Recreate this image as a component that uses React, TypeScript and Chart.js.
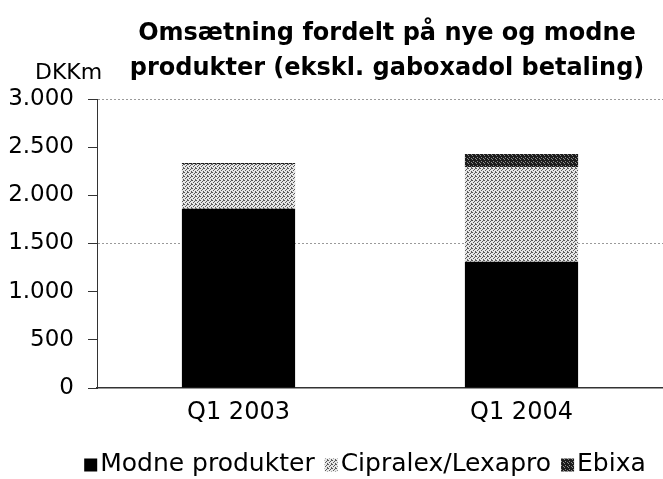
import React, { useEffect, useRef } from "react";
import { Chart, registerables } from "chart.js";

Chart.register(...registerables);

const categories = ["Q1 2003", "Q1 2004"];
const modneValues = [1860, 1310];
const cipralexValues = [465, 985];
const ebixaValues = [10, 135];
const seriesNames = ["Modne produkter", "Cipralex/Lexapro", "Ebixa"];
const titleLines = ["Omsætning fordelt på nye og modne", "produkter (ekskl. gaboxadol betaling)"];
const unitLabel = "DKKm";

const FONT = 'Verdana, "DejaVu Sans", sans-serif';

function makePattern(base: string, dot: string, dots: number[][]) {
  const c = document.createElement("canvas");
  c.width = 4;
  c.height = 4;
  const x = c.getContext("2d")!;
  x.fillStyle = base;
  x.fillRect(0, 0, 4, 4);
  x.fillStyle = dot;
  dots.forEach(([a, b]) => x.fillRect(a, b, 1, 1));
  return x.createPattern(c, "repeat")!;
}

function fmt(v: number) {
  return String(v).replace(/\B(?=(\d{3})+(?!\d))/g, ".");
}

export default function App() {
  const ref = useRef<HTMLCanvasElement>(null);
  useEffect(() => {
    const light = makePattern("#e6e6e6", "#5a5a5a", [[0, 0], [2, 1], [1, 2], [3, 3], [3, 0]]);
    const dark = makePattern("#1c1c1c", "#8a8a8a", [[1, 1], [3, 2], [0, 3]]);
    const fills = ["#000000", light, dark];

    const overlay = {
      id: "overlay",
      afterDraw(chart: any) {
        const ctx = chart.ctx;
        const ca = chart.chartArea;
        ctx.save();
        ctx.fillStyle = "#000";
        ctx.textBaseline = "middle";
        ctx.textAlign = "center";
        ctx.font = `bold 24px ${FONT}`;
        const cx = (ca.left + ca.right) / 2 + 7;
        ctx.fillText(titleLines[0], cx, 34);
        ctx.fillText(titleLines[1], cx, 69);
        ctx.textAlign = "left";
        ctx.font = `22px ${FONT}`;
        ctx.fillText(unitLabel, 35, 73);

        // legend
        ctx.font = `25px ${FONT}`;
        const box = 13, gapBT = 3, gapItem = 10;
        const widths = seriesNames.map((n) => ctx.measureText(n).width);
        let total = 0;
        widths.forEach((w, i) => { total += box + gapBT + w + (i < widths.length - 1 ? gapItem : 0); });
        let x = 365 - total / 2;
        const ly = 464;
        seriesNames.forEach((n, i) => {
          ctx.fillStyle = fills[i] as any;
          ctx.fillRect(x, ly - box / 2 + 1, box, box);
          x += box + gapBT;
          ctx.fillStyle = "#000";
          ctx.fillText(n, x, ly);
          x += widths[i] + gapItem;
        });
        ctx.restore();
      },
    };

    const chart = new Chart(ref.current!, {
      type: "bar",
      data: {
        labels: categories,
        datasets: [
          { label: seriesNames[0], data: modneValues, backgroundColor: fills[0] as any },
          { label: seriesNames[1], data: cipralexValues, backgroundColor: fills[1] as any },
          { label: seriesNames[2], data: ebixaValues, backgroundColor: fills[2] as any },
        ],
      },
      options: {
        animation: false,
        responsive: true,
        maintainAspectRatio: false,
        layout: { padding: { top: 99, bottom: 0, left: 0, right: 0 } },
        datasets: { bar: { barPercentage: 0.4, categoryPercentage: 1 } },
        plugins: { legend: { display: false }, title: { display: false }, tooltip: { enabled: false } },
        scales: {
          x: {
            stacked: true,
            grid: { display: true, color: "transparent", drawTicks: false },
            border: { display: true, color: "#333", width: 1.5 },
            ticks: { color: "#000", font: { family: FONT, size: 24 }, padding: 10 },
            afterFit: (s: any) => { s.height = 91; },
          },
          y: {
            stacked: true,
            min: 0,
            max: 3000,
            ticks: { stepSize: 500, color: "#000", font: { family: FONT, size: 23 }, padding: 14, callback: (v: any) => fmt(Number(v)) },
            grid: {
              color: (c: any) => (c.tick && (c.tick.value === 1500 || c.tick.value === 3000) ? "#9a9a9a" : "transparent"),
              drawTicks: true,
              tickLength: 9,
              tickColor: "#333",
              tickWidth: 1,
            },
            border: { display: true, color: "#333", width: 1, dash: [2, 2] },
            afterFit: (s: any) => { s.width = 97; },
          },
        },
      },
      plugins: [overlay],
    });
    return () => chart.destroy();
  }, []);
  return (
    <div style={{ position: "absolute", left: 0, top: 0, width: 663, height: 479, background: "#fff" }}>
      <canvas ref={ref} />
    </div>
  );
}
